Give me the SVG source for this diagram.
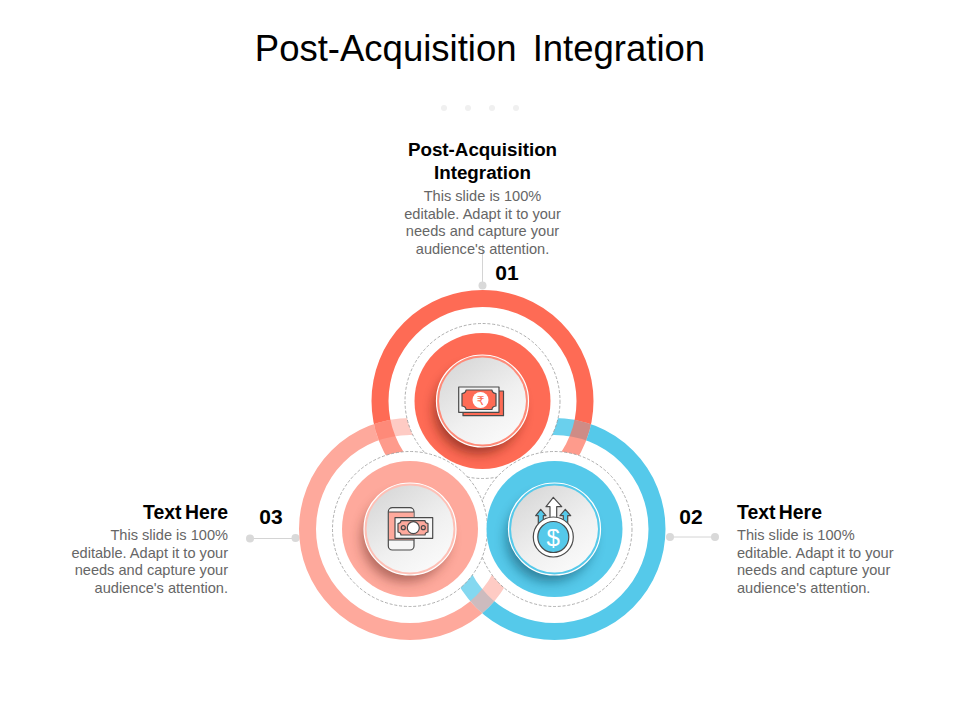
<svg xmlns="http://www.w3.org/2000/svg" width="960" height="720" viewBox="0 0 960 720">
<style>
text{font-family:"Liberation Sans",Arial,sans-serif}
.title{font-size:36.5px;fill:#000;text-anchor:middle;word-spacing:6px}
.head{font-size:18.8px;font-weight:700;fill:#000}
.th{font-size:19.4px;word-spacing:-2px}
.body{font-size:14.6px;fill:#666}
.num{font-size:21px;font-weight:700;fill:#000;text-anchor:middle}
.m{text-anchor:middle}.e{text-anchor:end}
.ring{fill:none;stroke-width:17}
.halo{fill:#fff;stroke:#9a9a9a;stroke-width:.8;stroke-dasharray:3 1.8}
.face{fill:url(#face)}
.rim{fill:none;stroke:#fff;stroke-width:1.2}
.conn{stroke:#d4d4d4;stroke-width:1;fill:none}
.dot{fill:#d9d9d9}
.ic{stroke:#4a4a4a;stroke-width:1.2;stroke-linejoin:round}
.glyph{font-family:"DejaVu Sans",sans-serif;text-anchor:middle}
</style>
<defs>
<linearGradient id="face" x1=".1" y1="0" x2=".8" y2="1"><stop offset="0" stop-color="#d5d5d5"/><stop offset=".6" stop-color="#f0f0f0"/><stop offset="1" stop-color="#fbfbfb"/></linearGradient>
<filter id="blur" x="-50%" y="-50%" width="200%" height="200%"><feGaussianBlur stdDeviation="6"/></filter>
<clipPath id="inR"><circle cx="482.5" cy="401" r="111"/></clipPath>
<clipPath id="inP"><circle cx="410" cy="529" r="111"/></clipPath>
<clipPath id="inB"><circle cx="554.5" cy="529" r="111"/></clipPath>
<clipPath id="dR"><circle cx="482.5" cy="401" r="68"/></clipPath>
<clipPath id="dP"><circle cx="410" cy="529" r="68"/></clipPath>
<clipPath id="dB"><circle cx="554.5" cy="529" r="68"/></clipPath>
<mask id="notPB" maskUnits="userSpaceOnUse" x="0" y="0" width="960" height="720"><rect width="960" height="720" fill="#fff"/><circle cx="410" cy="529" r="111"/><circle cx="554.5" cy="529" r="111"/></mask>
<mask id="notRB" maskUnits="userSpaceOnUse" x="0" y="0" width="960" height="720"><rect width="960" height="720" fill="#fff"/><circle cx="482.5" cy="401" r="111"/><circle cx="554.5" cy="529" r="111"/></mask>
<mask id="notRP" maskUnits="userSpaceOnUse" x="0" y="0" width="960" height="720"><rect width="960" height="720" fill="#fff"/><circle cx="482.5" cy="401" r="111"/><circle cx="410" cy="529" r="111"/></mask>
</defs>
<rect width="960" height="720" fill="#fff"/>
<text class="title" x="480" y="61">Post-Acquisition Integration</text>
<g id="dots" fill="#f0f0f0"><circle cx="444" cy="108" r="3"/><circle cx="468" cy="108" r="3"/><circle cx="492" cy="108" r="3"/><circle cx="516" cy="108" r="3"/></g>

<g id="connectors">
<path class="conn" d="M482.500 245V285"/><circle class="dot" cx="482.500" cy="285.500" r="4"/>
<path class="conn" d="M670 537H715"/><circle class="dot" cx="670" cy="537" r="4"/><circle class="dot" cx="715" cy="537" r="4"/>
<path class="conn" d="M250 538.500H295.500"/><circle class="dot" cx="250" cy="538.500" r="4"/><circle class="dot" cx="295.500" cy="538" r="4"/>
</g>

<g id="rings">
<circle class="ring" cx="554.500" cy="529" r="102.500" stroke="#55c9ea" mask="url(#notRP)"/>
<g clip-path="url(#inR)"><circle class="ring" cx="554.500" cy="529" r="102.500" stroke="#55c9ea" opacity=".88"/></g>
<g clip-path="url(#inP)"><circle class="ring" cx="554.500" cy="529" r="102.500" stroke="#55c9ea" opacity=".72"/></g>
<circle class="ring" cx="410" cy="529" r="102.500" stroke="#fea99c" mask="url(#notRB)"/>
<g clip-path="url(#inR)"><circle class="ring" cx="410" cy="529" r="102.500" stroke="#fea99c" opacity=".6"/></g>
<g clip-path="url(#inB)"><circle class="ring" cx="410" cy="529" r="102.500" stroke="#fea99c" opacity=".6"/></g>
<circle class="ring" cx="482.500" cy="401" r="102.500" stroke="#fe6b55" mask="url(#notPB)"/>
<g clip-path="url(#inP)"><circle class="ring" cx="482.500" cy="401" r="102.500" stroke="#fe6b55" opacity=".68"/></g>
<g clip-path="url(#inB)"><circle class="ring" cx="482.500" cy="401" r="102.500" stroke="#fe6b55" opacity=".68"/></g>
<circle cx="482" cy="490" r="24" fill="#fff"/>
</g>

<g id="halos">
<circle class="halo" cx="482.500" cy="401" r="77.500"/>
<circle class="halo" cx="554.500" cy="529" r="77.500"/>
<circle class="halo" cx="410" cy="529" r="77.500"/>
</g>

<g id="node-01">
<circle cx="482.500" cy="401" r="68" fill="#fe6b55"/>
<g clip-path="url(#dR)"><circle cx="478" cy="410" r="44" fill="#6b1a0e" opacity=".6" filter="url(#blur)"/></g>
<circle cx="482.500" cy="401" r="46" fill="#fe8a78"/>
<circle class="rim" cx="482.500" cy="401" r="46"/>
<circle class="face" cx="482.500" cy="401" r="43.500"/>
<rect class="ic" x="463" y="391" width="40.500" height="24.700" fill="#fe6b55"/>
<rect class="ic" x="458.700" y="387" width="40.300" height="25.300" fill="#f4f4f4"/>
<path class="ic" d="M466 390H492Q492 393 496 393.500V406Q492 406.500 492 409.500H466Q466 406.500 462 406V393.500Q466 393 466 390Z" fill="#fe6b55"/>
<circle cx="480.500" cy="400" r="8" fill="#fff"/>
<text class="glyph" x="480.500" y="404.500" font-size="12" fill="#fe6b55">₹</text>
<text class="num" x="507" y="280">01</text>
<text class="head m" x="482.500" y="156">Post-Acquisition</text>
<text class="head m" x="482.500" y="179">Integration</text>
<text class="body m" x="482.500" y="201">This slide is 100%</text>
<text class="body m" x="482.500" y="219">editable. Adapt it to your</text>
<text class="body m" x="482.500" y="236">needs and capture your</text>
<text class="body m" x="482.500" y="254">audience's attention.</text>
</g>

<g id="node-02">
<circle cx="554.500" cy="529" r="68" fill="#55c9ea"/>
<g clip-path="url(#dB)"><circle cx="550" cy="538" r="44" fill="#0b4a60" opacity=".55" filter="url(#blur)"/></g>
<circle cx="554.500" cy="529" r="46" fill="#55c9ea"/>
<circle class="rim" cx="554.500" cy="529" r="46"/>
<circle class="face" cx="554.500" cy="529" r="43.500"/>
<path class="ic" d="M553.300 497.300L561.700 506.700H556.700V520H550V506.700H546Z" fill="#fff"/>
<path class="ic" d="M540.700 509.300L546 515.700H543.300V525H538.300V515.700H535.700Z" fill="#55c9ea"/>
<path class="ic" d="M565.300 509.300L570.700 515.700H567.700V525H563.300V515.700H560Z" fill="#55c9ea"/>
<circle class="ic" cx="553.300" cy="537" r="20" fill="#fff"/>
<circle class="ic" cx="553.300" cy="537" r="15.500" fill="#55c9ea"/>
<text x="553.300" y="545.500" font-size="24" fill="#fff" text-anchor="middle">$</text>
<text class="num" x="691" y="524">02</text>
<text class="head th" x="737" y="519">Text Here</text>
<text class="body" x="737" y="540">This slide is 100%</text>
<text class="body" x="737" y="558">editable. Adapt it to your</text>
<text class="body" x="737" y="575">needs and capture your</text>
<text class="body" x="737" y="593">audience's attention.</text>
</g>

<g id="node-03">
<circle cx="410" cy="529" r="68" fill="#fea99c"/>
<g clip-path="url(#dP)"><circle cx="405.500" cy="538" r="44" fill="#6b2a20" opacity=".5" filter="url(#blur)"/></g>
<circle cx="410" cy="529" r="46" fill="#fec0b6"/>
<circle class="rim" cx="410" cy="529" r="46"/>
<circle class="face" cx="410" cy="529" r="43.500"/>
<rect class="ic" x="388.300" y="507.700" width="25.700" height="42.300" rx="4" fill="#f6f6f6"/>
<rect x="389" y="512" width="24.500" height="28" fill="#fea99c"/>
<path class="ic" d="M388.300 512H414M388.300 540H414" fill="none"/>
<rect class="ic" x="395" y="517.700" width="37.700" height="20.600" fill="#f6f6f6"/>
<path class="ic" d="M401 520.700H425Q425 523 428 523.500V532Q425 532.500 425 535H401Q401 532.500 398 532V523.500Q401 523 401 520.700Z" fill="#fea99c"/>
<circle class="ic" cx="413.300" cy="527.700" r="6" fill="#fff"/>
<circle class="ic" cx="403.300" cy="527.700" r="2" fill="#fea99c"/>
<circle class="ic" cx="423.300" cy="527.700" r="2" fill="#fea99c"/>
<text class="num" x="271" y="524">03</text>
<text class="head th e" x="228" y="519">Text Here</text>
<text class="body e" x="228" y="540">This slide is 100%</text>
<text class="body e" x="228" y="558">editable. Adapt it to your</text>
<text class="body e" x="228" y="575">needs and capture your</text>
<text class="body e" x="228" y="593">audience's attention.</text>
</g>
</svg>
